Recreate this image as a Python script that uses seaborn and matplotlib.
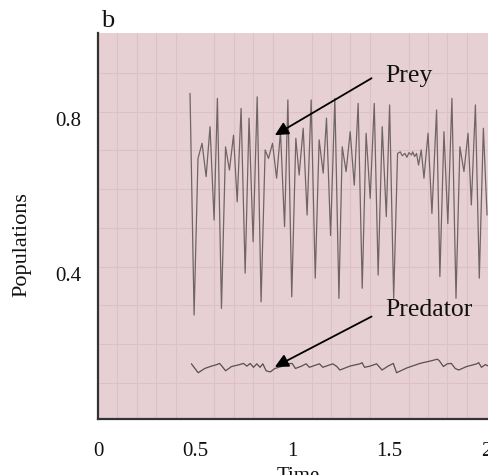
import numpy as np
import pandas as pd
import matplotlib
matplotlib.use("Agg")
import matplotlib.pyplot as plt
import seaborn as sns

# ---- data ----
prey_t = [0.474, 0.495, 0.515, 0.536, 0.557, 0.577, 0.598, 0.615, 0.636, 0.657,
          0.677, 0.698, 0.717, 0.737, 0.758, 0.778, 0.799, 0.820, 0.840,
          0.861, 0.878, 0.899, 0.920, 0.940, 0.961, 0.978, 0.998, 1.019, 1.036,
          1.057, 1.077, 1.098, 1.119, 1.139, 1.160, 1.177, 1.198, 1.220,
          1.241, 1.258, 1.278, 1.299, 1.320, 1.340, 1.361, 1.381, 1.402, 1.423,
          1.443, 1.464, 1.485, 1.502, 1.523, 1.543,
          1.557, 1.567, 1.581, 1.591, 1.602, 1.615, 1.621, 1.631, 1.641, 1.651,
          1.665, 1.679, 1.700, 1.720, 1.744, 1.761, 1.782, 1.802, 1.823, 1.844,
          1.864, 1.885, 1.906, 1.923, 1.944, 1.964, 1.985, 2.004]
prey_v = [0.867, 0.295, 0.699, 0.738, 0.652, 0.781, 0.540, 0.854, 0.312, 0.729,
          0.669, 0.759, 0.587, 0.828, 0.403, 0.803, 0.484, 0.858, 0.329,
          0.721, 0.699, 0.738, 0.648, 0.768, 0.523, 0.850, 0.342, 0.751, 0.656,
          0.777, 0.553, 0.850, 0.390, 0.747, 0.661, 0.803, 0.500, 0.854,
          0.338, 0.729, 0.665, 0.768, 0.630, 0.841, 0.364, 0.764, 0.596, 0.841,
          0.398, 0.781, 0.549, 0.837, 0.338, 0.712,
          0.716, 0.706, 0.712, 0.702, 0.714, 0.708, 0.716, 0.704, 0.712, 0.682,
          0.721, 0.648, 0.764, 0.557, 0.824, 0.394, 0.768, 0.531, 0.854, 0.338,
          0.729, 0.665, 0.764, 0.579, 0.837, 0.390, 0.777, 0.553]

pred_t = [0.481, 0.516, 0.550, 0.584, 0.612, 0.626, 0.640, 0.657, 0.688, 0.722,
          0.749, 0.767, 0.784, 0.801, 0.818, 0.835, 0.849, 0.866, 0.887, 0.911,
          0.945, 0.980, 1.000, 1.017, 1.048, 1.072, 1.089, 1.117, 1.141, 1.158,
          1.186, 1.210, 1.230, 1.246, 1.297, 1.349, 1.360, 1.373, 1.401, 1.435,
          1.463, 1.494, 1.521, 1.538, 1.589, 1.658, 1.718, 1.748, 1.758, 1.779,
          1.799, 1.820, 1.840, 1.858, 1.899, 1.951, 1.961, 1.975, 1.995, 2.012]
pred_v = [0.169, 0.146, 0.157, 0.163, 0.167, 0.170, 0.162, 0.151, 0.162, 0.166,
          0.170, 0.163, 0.170, 0.160, 0.169, 0.160, 0.169, 0.151, 0.148, 0.157,
          0.162, 0.169, 0.170, 0.157, 0.163, 0.169, 0.160, 0.165, 0.169, 0.160,
          0.165, 0.169, 0.162, 0.153, 0.163, 0.169, 0.172, 0.160, 0.163, 0.169,
          0.153, 0.163, 0.170, 0.146, 0.158, 0.170, 0.177, 0.181, 0.177, 0.162,
          0.169, 0.170, 0.157, 0.153, 0.162, 0.169, 0.172, 0.160, 0.167, 0.163]

x_ticks = [0, 0.5, 1, 1.5, 2]
x_tick_labels = ["0", "0.5", "1", "1.5", "2"]
y_ticks = [0.4, 0.8]
y_tick_labels = ["0.4", "0.8"]

sns.set_theme(style="white")
plt.rcParams["font.family"] = ["Liberation Serif", "DejaVu Serif"]

fig = plt.figure(figsize=(4.89, 4.75), dpi=100)
ax = fig.add_axes([0.2004, 0.1179, 0.7996, 0.8126])
ax.set_facecolor("#e7d0d4")

prey_df = pd.DataFrame({"t": prey_t, "v": prey_v})
pred_df = pd.DataFrame({"t": pred_t, "v": pred_v})
sns.lineplot(data=prey_df, x="t", y="v", ax=ax, estimator=None, sort=False,
             color="#6f6466", linewidth=0.9)
sns.lineplot(data=pred_df, x="t", y="v", ax=ax, estimator=None, sort=False,
             color="#555052", linewidth=0.9)

ax.set_xlim(0, 2.014)
ax.set_ylim(0.0266, 1.0227)

# grid (background)
ax.set_xticks(np.arange(0.1, 2.01, 0.1), minor=True)
ax.set_yticks(np.arange(0.12, 1.0, 0.1), minor=True)
ax.grid(which="minor", color="#dcc2c7", linewidth=0.8)
ax.grid(which="major", visible=False)
ax.tick_params(which="minor", length=0)

ax.set_xticks(x_ticks)
ax.set_xticklabels(x_tick_labels)
ax.set_yticks(y_ticks)
ax.set_yticklabels(y_tick_labels)
ax.tick_params(axis="x", which="major", direction="in", length=11, width=1.5,
               color="#222222", pad=16.5, labelsize=15, labelcolor="#111111")
ax.tick_params(axis="y", which="major", direction="in", length=13, width=1.5,
               color="#222222", pad=12, labelsize=15, labelcolor="#111111")
ax.xaxis.get_major_ticks()[-1].tick1line.set_visible(False)
ax.xaxis.get_major_ticks()[0].tick1line.set_visible(False)

for s in ["top", "right"]:
    ax.spines[s].set_visible(False)
for s in ["left", "bottom"]:
    ax.spines[s].set_color("#333333")
    ax.spines[s].set_linewidth(1.6)

ax.set_xlabel("")
ax.set_ylabel("")
ax.text(-0.194, 0.451, "Populations", transform=ax.transAxes, rotation=90,
        ha="center", va="center", fontsize=16, color="#111111")
ax.text(0.511, -0.124, "Time", transform=ax.transAxes, ha="center", va="top",
        fontsize=15, color="#111111")
ax.text(0.009, 1.016, "b", transform=ax.transAxes, ha="left", va="baseline",
        fontsize=19, color="#111111")

ax.annotate("", xy=(0.911, 0.759), xytext=(1.409, 0.906),
            arrowprops=dict(arrowstyle="-|>", color="black", lw=1.3,
                            mutation_scale=20, shrinkA=0, shrinkB=0))
ax.annotate("", xy=(0.911, 0.161), xytext=(1.409, 0.291),
            arrowprops=dict(arrowstyle="-|>", color="black", lw=1.3,
                            mutation_scale=20, shrinkA=0, shrinkB=0))
ax.text(1.478, 0.897, "Prey", ha="left", va="baseline", fontsize=18.5,
        color="#111111")
ax.text(1.478, 0.292, "Predator", ha="left", va="baseline", fontsize=18.5,
        color="#111111")

fig.savefig("out.png", dpi=100)
